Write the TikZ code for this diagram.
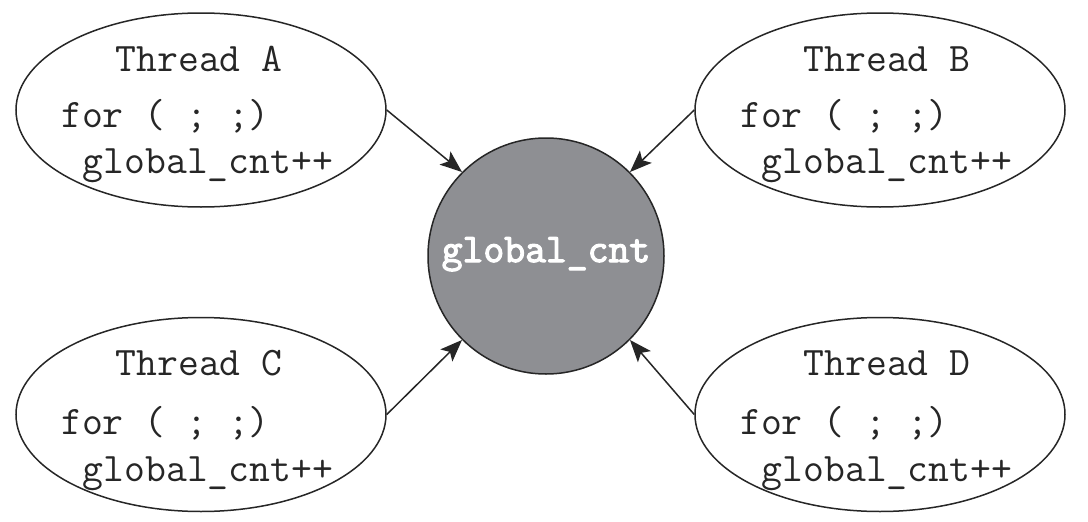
\documentclass[tikz,border=0pt]{standalone}
\usepackage{fontspec}
\newfontfamily\heavytt[FakeBold=3]{Latin Modern Mono}
\usetikzlibrary{arrows.meta,shapes.geometric}
\definecolor{cgray}{RGB}{142,143,147}
\begin{document}
\begin{tikzpicture}[x=1pt,y=-1pt,
  thread/.style={ellipse,draw=black!85,line width=1.5pt,minimum width=370pt,minimum height=194pt,inner sep=0pt,fill=white},
  code/.style={font=\ttfamily\fontsize{40.5}{44}\selectfont,inner sep=0pt,text=black!85},
  arr/.style={-{Stealth[length=22pt,width=17pt,inset=5pt]},line width=1.5pt,draw=black!85}]
\useasboundingbox (0,0) rectangle (1088,522);
\fill[white] (0,0) rectangle (1088,522);
\node[thread] (A) at (201,110) {};
\node[thread] (B) at (880,110) {};
\node[thread] (C) at (201,414.5) {};
\node[thread] (D) at (880,414.5) {};
\node[circle,draw=black!85,line width=1.5pt,fill=cgray,minimum size=236pt,inner sep=0pt] (G) at (546,256) {};
\node[code,text=white,font=\heavytt\fontsize{40.5}{44}\selectfont,anchor=base] (Gt) at (546,262) {global\_cnt};
% Thread A
\node[code,anchor=base] (At) at (199,71) {Thread A};
\node[code,anchor=base west] (Af) at (61,127) {for ( ; ;)};
\node[code,anchor=base west] (Ag) at (82.6,173) {global\_cnt++};
% Thread B
\node[code,anchor=base] (Bt) at (887,71) {Thread B};
\node[code,anchor=base west] (Bf) at (740,127) {for ( ; ;)};
\node[code,anchor=base west] (Bg) at (761.6,173) {global\_cnt++};
% Thread C
\node[code,anchor=base] (Ct) at (199,375) {Thread C};
\node[code,anchor=base west] (Cf) at (61,434) {for ( ; ;)};
\node[code,anchor=base west] (Cg) at (82.6,481) {global\_cnt++};
% Thread D
\node[code,anchor=base] (Dt) at (887,375) {Thread D};
\node[code,anchor=base west] (Df) at (740,434) {for ( ; ;)};
\node[code,anchor=base west] (Dg) at (761.6,481) {global\_cnt++};
% arrows
\draw[arr] (A.east) -- (G.135);
\draw[arr] (B.west) -- (G.45);
\draw[arr] (C.east) -- (G.225);
\draw[arr] (D.west) -- (G.315);
\end{tikzpicture}
\end{document}
